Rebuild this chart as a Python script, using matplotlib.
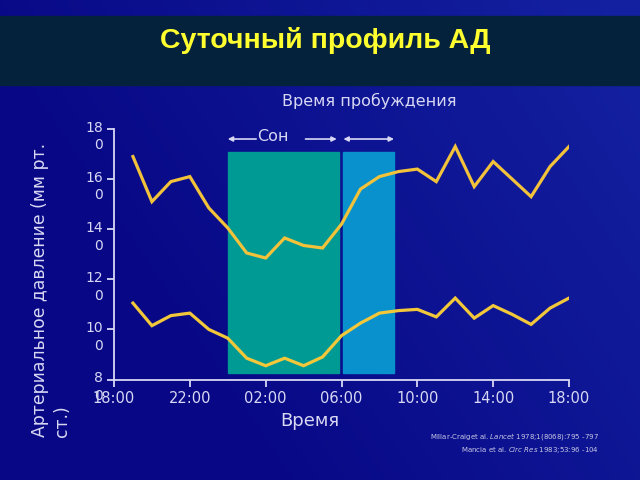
import numpy as np
import matplotlib
matplotlib.use("Agg")
import matplotlib.pyplot as plt
from matplotlib.patches import Rectangle
from matplotlib.transforms import ScaledTranslation

# ---- data ----
hours = [1, 2, 3, 4, 5, 6, 7, 8, 9, 10, 11, 12, 13, 14, 15, 16, 17, 18, 19, 20, 21, 22, 23, 24]  # hours after 18:00
systolic = [169, 151, 159, 161, 148.5, 140.5, 130.5, 128.5, 136.5, 133.5, 132.5, 142, 156, 161, 163, 164,
            159, 173, 157, 167, 160, 153, 165, 173]
diastolic = [110.5, 101.5, 105.5, 106.5, 100, 96.5, 88.5, 85.5, 88.5, 85.5, 89, 97.5, 102.5, 106.5, 107.5, 108,
             105, 112.5, 104.5, 109.5, 106, 102, 108.5, 112.5]
tick_pos = [0, 4, 8, 12, 16, 20, 24]
tick_labels = ["18:00", "22:00", "02:00", "06:00", "10:00", "14:00", "18:00"]
ytick_pos = [80, 100, 120, 140, 160, 180]
ytick_labels = ["8\n0", "10\n0", "12\n0", "14\n0", "16\n0", "18\n0"]
sleep_span = (6.0, 11.88)
wake_span = (12.1, 14.77)
span_range = (82.6, 170.7)

fg = "#d8d8f4"
fig = plt.figure(figsize=(6.4, 4.8), dpi=100)
fig.patch.set_facecolor("#0a0a8c")

# background gradient
bg = fig.add_axes([0, 0, 1, 1], zorder=-10)
yy, xx = np.mgrid[0:1:200j, 0:1:200j]
g = np.clip(0.6 * xx + 0.3 * (1 - yy) - 0.25, 0, 1)
c0 = np.array([0x08, 0x08, 0x86]) / 255
c1 = np.array([0x1a, 0x30, 0xb0]) / 255
img = c0[None, None, :] * (1 - g[..., None]) + c1[None, None, :] * g[..., None]
bg.imshow(img, extent=[0, 1, 0, 1], aspect="auto", origin="upper")
bg.add_patch(Rectangle((0, 1 - 85 / 480), 1, 69 / 480, color="#05223c", transform=bg.transAxes))
bg.set_xlim(0, 1)
bg.set_ylim(0, 1)
bg.axis("off")

fig.text(325 / 640, 1 - 41 / 480, "Суточный профиль АД", color="#ffff30", fontsize=20.5,
         fontweight="bold", family="Liberation Sans", ha="center", va="center")

ax = fig.add_axes([114 / 640, 1 - 379.5 / 480, 455 / 640, 250.5 / 480])
ax.set_facecolor("none")
ax.set_xlim(0, 24)
ax.set_ylim(80, 180)

ax.add_patch(Rectangle((sleep_span[0], span_range[0]), sleep_span[1] - sleep_span[0],
                       span_range[1] - span_range[0], color="#009a95", zorder=1))
ax.add_patch(Rectangle((wake_span[0], span_range[0]), wake_span[1] - wake_span[0],
                       span_range[1] - span_range[0], color="#0891cc", zorder=1))

ax.plot(hours, systolic, color="#f2c23a", lw=2.3, zorder=3, solid_joinstyle="miter")
ax.plot(hours, diastolic, color="#f2c83a", lw=2.3, zorder=3, solid_joinstyle="miter")

for s in ["top", "right"]:
    ax.spines[s].set_visible(False)
for s in ["left", "bottom"]:
    ax.spines[s].set_color(fg)
    ax.spines[s].set_linewidth(1.3)

ax.set_xticks(tick_pos)
ax.set_xticklabels(tick_labels, fontsize=10.5, color=fg)
ax.set_yticks(ytick_pos)
ax.set_yticklabels(ytick_labels, fontsize=10, color=fg, linespacing=1.35)
ax.tick_params(axis="both", colors=fg, length=5, width=1.3)
ax.tick_params(axis="x", pad=3)
ax.tick_params(axis="y", pad=3)
shift = ScaledTranslation(0, 8.5 / 100, fig.dpi_scale_trans)
for lab in ax.get_yticklabels():
    lab.set_verticalalignment("top")
    lab.set_transform(lab.get_transform() + shift)

ax.set_xlabel("Время", color=fg, fontsize=13)
ax.xaxis.set_label_coords(0.43, -0.165)
ax.xaxis.label.set_verticalalignment("center")

fig.text(31 / 640, 1 - 437 / 480, "Артериальное давление (мм рт.\nст.)", rotation=90,
         color=fg, fontsize=12.4, ha="left", va="bottom", multialignment="left", linespacing=1.3)

fig.text(369 / 640, 1 - 101 / 480, "Время пробуждения", color=fg, fontsize=11.5,
         ha="center", va="center")

arrow_y = 176
ap = dict(arrowstyle="-|>", color=fg, lw=1.2, mutation_scale=7, shrinkA=0, shrinkB=0)
ax.annotate("", xy=(sleep_span[0], arrow_y), xytext=(7.5, arrow_y), arrowprops=ap, annotation_clip=False)
ax.annotate("", xy=(11.75, arrow_y), xytext=(10.1, arrow_y), arrowprops=ap, annotation_clip=False)
ax.annotate("", xy=(wake_span[0], arrow_y), xytext=(wake_span[1], arrow_y),
            arrowprops=dict(arrowstyle="<|-|>", color=fg, lw=1.2, mutation_scale=7, shrinkA=0, shrinkB=0),
            annotation_clip=False)
ax.text(8.4, arrow_y + 1, "Сон", color=fg, fontsize=11.5, ha="center", va="center")

fig.text(599 / 640, 1 - 443 / 480,
         "Millar-Craiget al. $\\it{Lancet}$ 1978;1(8068):795 -797\nMancia et al. $\\it{Circ\\ Res}$ 1983;53:96 -104",
         color="#c8c8e4", fontsize=5, ha="right", va="center", multialignment="right", linespacing=1.3)

fig.savefig("out.png", dpi=100, facecolor=fig.get_facecolor())
